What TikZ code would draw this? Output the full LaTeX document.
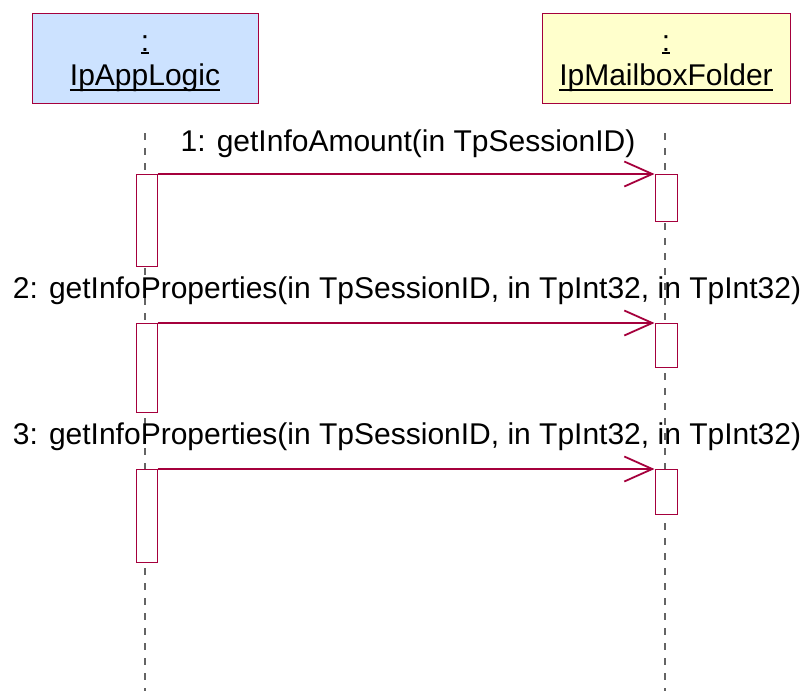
\documentclass[tikz,border=0pt]{standalone}
\usepackage{fontspec}
\setmainfont{Liberation Sans}
\usetikzlibrary{arrows.meta}
\definecolor{crim}{RGB}{165,0,60}
\definecolor{hdrblue}{RGB}{204,226,255}
\definecolor{hdryellow}{RGB}{255,255,204}
\definecolor{lifegray}{RGB}{100,100,100}
\newcommand\myul[2]{\setbox0=\hbox{#2}\rlap{\rule[#1]{\wd0}{1.5pt}}\box0}
\tikzset{
  hdrbox/.style={draw=crim, line width=1pt, rectangle, inner sep=0pt},
  hdrtext/.style={anchor=base, inner sep=0pt, font=\fontsize{30}{34}\selectfont},
  msgtext/.style={anchor=base, inner sep=0pt, font=\fontsize{30}{34}\selectfont},
  actbox/.style={draw=crim, fill=white, line width=1pt, rectangle, inner sep=0pt, minimum width=21pt, anchor=north},
  lifeline/.style={draw=lifegray, line width=1.3pt, dash pattern=on 7pt off 8pt},
  msg/.style={draw=crim, line width=1.1pt, -{Straight Barb[length=28pt, width=25pt, line width=1.8pt]}}
}
\begin{document}
\begin{tikzpicture}[x=1pt, y=-1pt]
\useasboundingbox (0,0) rectangle (807,691);
% headers
\node[hdrbox, fill=hdrblue, minimum width=226pt, minimum height=90pt] (A) at (145,58) {};
\node[hdrbox, fill=hdryellow, minimum width=248pt, minimum height=90pt] (B) at (666,58) {};
\node[hdrtext] (Acolon) at (145,51) {\myul{-2.5pt}{:}};
\node[hdrtext] (Aname) at (145,85) {\myul{-5.5pt}{IpAppLogic}};
\node[hdrtext] (Bcolon) at (666,51) {\myul{-2.5pt}{:}};
\node[hdrtext] (Bname) at (666,85) {\myul{-5.5pt}{IpMailboxFolder}};
% lifelines
\coordinate (La) at (145,133);
\coordinate (Lb) at (145,691);
\coordinate (Ra) at (665,133);
\coordinate (Rb) at (665,691);
\draw[lifeline] (La) -- (Lb);
\draw[lifeline] (Ra) -- (Rb);
% labels
\node[msgtext] (m1) at (408,151) {1: getInfoAmount(in TpSessionID)};
\node[msgtext] (m2) at (407,298) {2: getInfoProperties(in TpSessionID, in TpInt32, in TpInt32)};
\node[msgtext] (m3) at (407,444) {3: getInfoProperties(in TpSessionID, in TpInt32, in TpInt32)};
% activations
\node[actbox, minimum height=92pt] (a1) at (146.5,174) {};
\node[actbox, minimum height=89pt] (a2) at (146.5,323) {};
\node[actbox, minimum height=93pt] (a3) at (146.5,469) {};
\node[actbox, minimum width=22pt, minimum height=47pt] (b1) at (666,174) {};
\node[actbox, minimum width=22pt, minimum height=44pt] (b2) at (666,323) {};
\node[actbox, minimum width=22pt, minimum height=45pt] (b3) at (666,469) {};
% messages
\draw[msg] (a1.north east) -- (b1.north west);
\draw[msg] (a2.north east) -- (b2.north west);
\draw[msg] (a3.north east) -- (b3.north west);
\end{tikzpicture}
\end{document}
